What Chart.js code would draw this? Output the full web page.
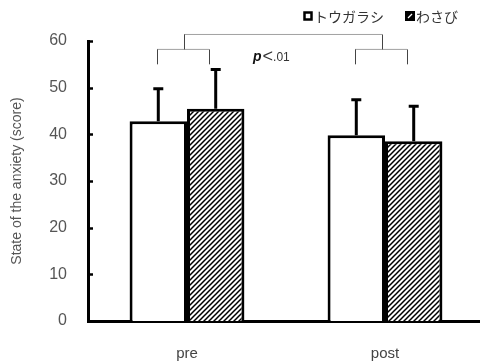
<!DOCTYPE html>
<html>
<head>
<meta charset="utf-8">
<script src="https://cdn.jsdelivr.net/npm/chart.js@4/dist/chart.umd.min.js"></script>
<style>
  html, body { margin: 0; padding: 0; background: #fff; overflow: hidden; }
  #wrap { width: 484px; height: 364px; }
</style>
</head>
<body>
<div id="wrap"><canvas id="chart" width="484" height="364"></canvas></div>
<script>
// Anxiety score before and after, by condition
const categories = ['pre', 'post'];
const seriesNames = ['トウガラシ', 'わさび'];
const chiliMeans = [42.8, 39.8];
const chiliSD = [7.1, 7.7];
const wasabiMeans = [45.5, 38.5];
const wasabiSD = [8.5, 7.6];
const yTicks = [0, 10, 20, 30, 40, 50, 60];
const sigLabel = { p: 'p', rest: '<', num: '.01' };

const FONT = '"Liberation Sans", "DejaVu Sans", sans-serif';
const JP_FONT = '"Noto Sans CJK JP", sans-serif';

// diagonal hatch fill
function makeHatch() {
  const s = 5;
  const c = document.createElement('canvas');
  c.width = s; c.height = s;
  const g = c.getContext('2d');
  g.fillStyle = '#fff';
  g.fillRect(0, 0, s, s);
  g.strokeStyle = '#000';
  g.lineWidth = 1.5;
  g.beginPath();
  g.moveTo(-1, s + 1); g.lineTo(s + 1, -1);
  g.moveTo(-1, 1); g.lineTo(1, -1);
  g.moveTo(s - 1, s + 1); g.lineTo(s + 1, s - 1);
  g.stroke();
  return g.createPattern(c, 'repeat');
}
const hatch = makeHatch();

// one-sided error bars above each bar
const errorBars = {
  id: 'errorBars',
  afterDatasetsDraw(chart) {
    const ctx = chart.ctx;
    const y = chart.scales.y;
    ctx.save();
    ctx.strokeStyle = '#000';
    ctx.lineWidth = 3;
    chart.data.datasets.forEach((ds, di) => {
      const meta = chart.getDatasetMeta(di);
      meta.data.forEach((bar, i) => {
        const top = y.getPixelForValue(ds.data[i] + ds.sd[i]);
        ctx.beginPath();
        ctx.moveTo(bar.x, bar.y);
        ctx.lineTo(bar.x, top);
        ctx.moveTo(bar.x - 5, top + 0.5);
        ctx.lineTo(bar.x + 5, top + 0.5);
        ctx.stroke();
      });
    });
    ctx.restore();
  }
};

// inward tick marks on the value axis
const innerTicks = {
  id: 'innerTicks',
  afterDraw(chart) {
    const ctx = chart.ctx;
    const y = chart.scales.y;
    const x0 = chart.chartArea.left;
    ctx.save();
    ctx.strokeStyle = '#000';
    ctx.lineWidth = 2.5;
    yTicks.forEach(v => {
      const py = Math.round(y.getPixelForValue(v)) + 0.5;
      ctx.beginPath();
      ctx.moveTo(x0, py);
      ctx.lineTo(x0 + 5, py);
      ctx.stroke();
    });
    ctx.restore();
  }
};

// comparison brackets and significance text
const brackets = {
  id: 'brackets',
  afterDraw(chart) {
    const ctx = chart.ctx;
    const y = chart.scales.y;
    const m0 = chart.getDatasetMeta(0).data;
    const m1 = chart.getDatasetMeta(1).data;
    const yHigh = y.getPixelForValue(61.4);
    const yMid = y.getPixelForValue(58.2);
    const yLow = y.getPixelForValue(55.0);
    ctx.save();
    ctx.strokeStyle = '#444';
    ctx.lineWidth = 1;
    const mids = [];
    [0, 1].forEach(i => {
      const a = Math.round(m0[i].x - 1) + 0.5;
      const b = Math.round(m1[i].x - 7) + 0.5;
      ctx.setLineDash([1, 1]);
      ctx.beginPath();
      ctx.moveTo(a, yMid); ctx.lineTo(b, yMid);
      ctx.stroke();
      ctx.setLineDash([]);
      ctx.beginPath();
      ctx.moveTo(a, yMid); ctx.lineTo(a, yLow);
      ctx.moveTo(b, yMid); ctx.lineTo(b, yLow);
      ctx.stroke();
      mids.push(Math.round((a + b) / 2) + 0.5);
    });
    ctx.setLineDash([1, 1]);
    ctx.beginPath();
    ctx.moveTo(mids[0], yHigh); ctx.lineTo(mids[1], yHigh);
    ctx.stroke();
    ctx.setLineDash([]);
    ctx.beginPath();
    ctx.moveTo(mids[0], yHigh); ctx.lineTo(mids[0], yMid);
    ctx.moveTo(mids[1], yHigh); ctx.lineTo(mids[1], yMid);
    ctx.stroke();

    // p<.01
    const tx = (m0[0].x + m1[1].x) / 2 - 33;
    const ty = y.getPixelForValue(56.5);
    ctx.fillStyle = '#111';
    ctx.textBaseline = 'alphabetic';
    ctx.font = 'italic bold 14px ' + FONT;
    ctx.fillText(sigLabel.p, tx, ty + 4);
    let w = ctx.measureText(sigLabel.p).width + 1;
    ctx.font = '18px ' + FONT;
    ctx.fillStyle = '#333';
    ctx.fillText(sigLabel.rest, tx + w, ty + 5);
    w += ctx.measureText(sigLabel.rest).width;
    ctx.font = '12px ' + FONT;
    ctx.fillText(sigLabel.num, tx + w, ty + 4);
    ctx.restore();
  }
};

// legend in the top right corner
const cornerLegend = {
  id: 'cornerLegend',
  afterDraw(chart) {
    const ctx = chart.ctx;
    const items = [
      { x: 304, label: seriesNames[0], hatched: false },
      { x: 406, label: seriesNames[1], hatched: true }
    ];
    ctx.save();
    items.forEach(it => {
      const bx = it.x, by = 12, s = 8;
      if (it.hatched) {
        ctx.fillStyle = '#000';
        ctx.fillRect(bx - 1, by - 1, s + 2, s + 2);
        ctx.strokeStyle = '#fff';
        ctx.lineWidth = 1.2;
        ctx.beginPath();
        ctx.moveTo(bx + 2, by + s - 2);
        ctx.lineTo(bx + s - 2, by + 2);
        ctx.stroke();
      } else {
        ctx.strokeStyle = '#000';
        ctx.lineWidth = 2.5;
        ctx.strokeRect(bx + 0.5, by + 0.5, s - 1, s - 1);
      }
      ctx.fillStyle = '#333';
      ctx.font = '14px ' + JP_FONT;
      ctx.textBaseline = 'middle';
      ctx.fillText(it.label, bx + s + 2, by + s / 2 + 0.5);
    });
    ctx.restore();
  }
};

new Chart(document.getElementById('chart'), {
  type: 'bar',
  data: {
    labels: categories,
    datasets: [
      {
        label: seriesNames[0],
        data: chiliMeans,
        sd: chiliSD,
        backgroundColor: '#fff',
        borderColor: '#000',
        borderWidth: 3,
        borderSkipped: 'bottom'
      },
      {
        label: seriesNames[1],
        data: wasabiMeans,
        sd: wasabiSD,
        backgroundColor: hatch,
        borderColor: '#000',
        borderWidth: 3,
        borderSkipped: 'bottom'
      }
    ]
  },
  options: {
    responsive: false,
    animation: false,
    events: [],
    layout: { padding: { top: 41, left: 0, right: 0, bottom: 0 } },
    datasets: { bar: { barPercentage: 1.0, categoryPercentage: 0.58 } },
    plugins: { legend: { display: false }, tooltip: { enabled: false } },
    scales: {
      x: {
        grid: { display: false, drawTicks: false },
        border: { display: true, color: '#000', width: 3 },
        ticks: { color: '#444', font: { family: FONT, size: 15 }, padding: 24 },
        afterFit(s) { s.height = 43; }
      },
      y: {
        min: 0,
        max: 60,
        afterBuildTicks(s) { s.ticks = yTicks.map(v => ({ value: v })); },
        grid: { display: false, drawTicks: false },
        border: { display: true, color: '#000', width: 3 },
        ticks: { color: '#555', font: { family: FONT, size: 16 }, padding: 21 },
        title: {
          display: true,
          text: 'State of the anxiety (score)',
          color: '#555',
          font: { family: FONT, size: 14 },
          padding: { top: 9, bottom: 0 }
        },
        afterFit(s) { s.width = 88; }
      }
    }
  },
  plugins: [errorBars, innerTicks, brackets, cornerLegend]
});
</script>
</body>
</html>
